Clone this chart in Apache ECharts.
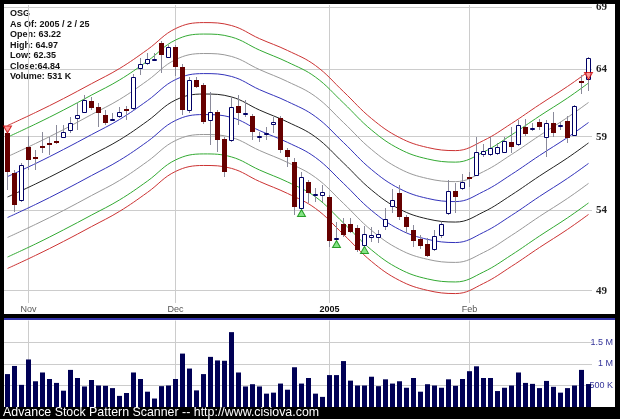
<!DOCTYPE html>
<html><head><meta charset="utf-8">
<script src="https://cdn.jsdelivr.net/npm/echarts@6/dist/echarts.min.js"></script>
<style>html,body{margin:0;padding:0;background:#000;}#c{width:620px;height:419px;}</style>
</head><body><div id="c"></div>
<script>
const dates = [
 '2004-10-27','2004-10-28','2004-10-29',
 '2004-11-01','2004-11-02','2004-11-03','2004-11-04','2004-11-05',
 '2004-11-08','2004-11-09','2004-11-10','2004-11-11','2004-11-12',
 '2004-11-15','2004-11-16','2004-11-17','2004-11-18','2004-11-19',
 '2004-11-22','2004-11-23','2004-11-24','2004-11-26','2004-11-29','2004-11-30',
 '2004-12-01','2004-12-02','2004-12-03',
 '2004-12-06','2004-12-07','2004-12-08','2004-12-09','2004-12-10',
 '2004-12-13','2004-12-14','2004-12-15','2004-12-16','2004-12-17',
 '2004-12-20','2004-12-21','2004-12-22','2004-12-23',
 '2004-12-27','2004-12-28','2004-12-29','2004-12-30','2004-12-31',
 '2005-01-03','2005-01-04','2005-01-05','2005-01-06','2005-01-07',
 '2005-01-10','2005-01-11','2005-01-12','2005-01-13','2005-01-14',
 '2005-01-18','2005-01-19','2005-01-20','2005-01-21',
 '2005-01-24','2005-01-25','2005-01-26','2005-01-27','2005-01-28','2005-01-31',
 '2005-02-01','2005-02-02','2005-02-03','2005-02-04',
 '2005-02-07','2005-02-08','2005-02-09','2005-02-10','2005-02-11',
 '2005-02-14','2005-02-15','2005-02-16','2005-02-17','2005-02-18',
 '2005-02-22','2005-02-23','2005-02-24','2005-02-25'
];
const openP = [59.27,56.48,54.66,58.29,57.58,58.35,58.56,58.70,59.00,59.48,
 60.32,60.78,61.60,61.17,60.56,60.24,60.49,60.98,61.08,64.12,
 64.52,64.76,66.09,64.98,65.74,64.20,60.93,63.18,62.80,60.20,
 60.81,58.84,58.77,61.23,60.71,60.49,58.98,59.23,59.91,60.32,
 58.06,57.25,54.12,55.89,55.04,55.00,54.84,52.19,53.10,53.10,
 52.83,51.78,52.26,52.26,52.97,54.27,55.11,53.53,52.72,52.13,
 51.84,51.51,52.40,53.79,55.28,55.44,56.22,56.34,57.79,57.79,
 57.84,57.94,58.65,58.49,59.72,59.58,60.08,59.00,59.96,59.80,
 60.15,59.13,63.13,63.22];
const closeP = [56.54,54.33,57.02,57.37,57.44,58.20,58.42,58.56,59.36,60.01,
 60.57,61.67,61.08,60.69,59.96,60.31,60.81,60.88,63.42,64.39,
 64.78,64.80,65.11,65.71,64.20,60.93,63.18,62.65,60.08,60.81,
 58.77,56.56,61.17,60.69,60.75,59.36,59.02,59.27,60.08,58.06,
 57.59,54.23,56.18,55.11,55.07,55.22,52.05,52.22,52.40,52.61,
 51.47,52.47,52.40,52.47,53.41,54.66,53.53,52.89,52.05,51.72,
 51.10,52.34,53.10,55.28,54.88,55.89,56.05,57.94,58.01,58.18,
 58.29,58.72,58.29,59.84,59.20,59.61,59.67,60.01,59.29,59.84,
 58.89,61.23,63.03,64.84];
const highP = [59.50,56.68,57.16,59.05,58.06,59.34,58.98,59.84,59.84,60.44,
 61.45,62.04,61.89,61.45,60.93,60.71,61.15,61.20,63.66,64.88,
 65.27,65.29,66.19,65.93,65.93,64.41,63.42,63.42,62.95,62.27,
 60.93,58.98,61.92,62.04,61.67,60.64,59.36,59.72,60.40,60.49,
 58.20,57.51,56.56,56.00,55.46,55.66,55.00,53.25,53.47,53.47,
 53.04,52.97,52.93,52.72,54.12,55.38,55.66,53.68,53.04,52.40,
 52.22,52.72,53.23,56.00,55.77,56.44,56.56,59.00,58.49,59.00,
 58.56,59.00,59.72,60.20,60.25,59.96,60.27,60.20,60.81,60.08,
 60.49,61.30,63.56,64.97];
const lowP = [55.33,53.88,54.53,56.68,56.68,57.85,57.71,58.49,58.91,59.27,
 59.48,60.71,60.93,59.72,59.84,60.13,60.35,60.20,60.93,63.56,
 64.33,64.72,63.72,64.88,63.48,60.57,60.71,62.57,59.91,58.42,
 57.92,56.22,58.63,59.84,60.44,58.77,58.65,58.77,59.25,57.85,
 56.91,53.69,54.07,54.44,54.55,54.55,51.67,52.09,52.28,52.53,
 51.35,51.72,51.98,51.90,52.72,53.82,53.36,52.51,51.67,51.53,
 51.02,51.41,52.22,53.68,53.82,55.33,55.51,56.27,57.59,57.64,
 57.71,57.85,57.83,58.35,59.05,59.39,59.48,57.59,59.00,59.48,
 58.58,59.05,62.12,62.35];
const volumeK = [761,949,512,1099,595,798,648,557,377,858,
 670,475,625,497,490,437,257,324,798,648,
 354,196,482,497,648,1235,889,384,761,1159,
 1077,1069,1731,798,475,527,475,309,332,542,
 400,919,542,670,309,234,738,738,1062,610,
 497,497,700,482,640,542,595,445,670,354,
 527,497,445,640,490,648,828,941,670,670,
 369,445,497,798,557,535,437,603,467,332,
 437,497,858,531];
// envelope curves, read at these candle positions
const bandIdx = [0,4,8,12,16,20,24,28,32,36,40,44,48,52,56,60,64,68,72,76,80,83];
const bandRedUp   = [59.80,60.75,61.78,62.90,64.06,65.54,67.22,67.71,67.47,66.41,65.47,64.29,62.30,60.31,58.94,58.24,58.02,58.73,59.95,61.33,62.69,63.83];
const bandGreenUp = [58.97,59.91,60.93,62.04,63.18,64.64,66.30,66.78,66.54,65.50,64.56,63.40,61.45,59.48,58.13,57.44,57.22,57.92,59.13,60.49,61.82,62.95];
const bandGrayUp  = [57.60,58.52,59.51,60.60,61.71,63.14,64.75,65.23,65.00,63.98,63.06,61.93,60.02,58.10,56.77,56.10,55.89,56.57,57.75,59.08,60.39,61.49];
const bandBlueUp  = [56.23,57.12,58.10,59.15,60.24,61.63,63.21,63.67,63.45,62.45,61.56,60.45,58.59,56.71,55.42,54.77,54.56,55.23,56.38,57.68,58.95,60.02];
const bandMid     = [54.86,55.73,56.68,57.71,58.77,60.13,61.67,62.12,61.90,60.93,60.06,58.98,57.16,55.33,54.07,53.43,53.23,53.88,55.00,56.27,57.51,58.56];
const bandBlueDn  = [53.52,54.37,55.30,56.30,57.34,58.66,60.17,60.60,60.39,59.44,58.60,57.54,55.77,53.98,52.75,52.13,51.93,52.57,53.66,54.90,56.11,57.13];
const bandGrayDn  = [52.25,53.08,53.98,54.96,55.97,57.27,58.73,59.16,58.95,58.03,57.20,56.17,54.44,52.70,51.50,50.89,50.70,51.31,52.38,53.59,54.77,55.77];
const bandGreenDn = [51.03,51.84,52.73,53.68,54.67,55.93,57.37,57.79,57.58,56.68,55.87,54.87,53.17,51.47,50.30,49.70,49.52,50.12,51.16,52.34,53.50,54.47];
const bandRedDn   = [50.33,51.13,52.00,52.94,53.92,55.17,56.58,56.99,56.79,55.90,55.10,54.11,52.44,50.76,49.61,49.02,48.83,49.43,50.46,51.62,52.76,53.72];
const sellIdx = [0, 83];
const buyIdx = [42, 47, 51];
const priceTicks = [49, 54, 59, 64, 69];
const monthLabels = {'2004-11-01':'Nov','2004-12-01':'Dec','2005-01-03':'2005','2005-02-01':'Feb'};
const infoLines = ['OSG','As Of: 2005 / 2 / 25','Open: 63.22','High: 64.97','Low: 62.35','Close:64.84','Volume: 531 K'];
const footer = 'Advance Stock Pattern Scanner -- http://www.cisiova.com';

const chart = echarts.init(document.getElementById('c'));
const candleData = dates.map((d, i) => [i, openP[i], closeP[i], lowP[i], highP[i]]);
function mkBand(arr) { return bandIdx.map((k, j) => [k, arr[j]]); }
const bands = [
  [bandRedUp, '#cc3333'], [bandGreenUp, '#33aa33'], [bandGrayUp, '#999999'], [bandBlueUp, '#3333bb'],
  [bandMid, '#222222'],
  [bandBlueDn, '#3333bb'], [bandGrayDn, '#999999'], [bandGreenDn, '#33aa33'], [bandRedDn, '#cc3333']
];
const monthKeys = Object.keys(monthLabels);

function renderCandle(params, api) {
  const i = api.value(0);
  const o = api.value(1), c = api.value(2), l = api.value(3), h = api.value(4);
  const po = api.coord([i, o]), pc = api.coord([i, c]), pl = api.coord([i, l]), ph = api.coord([i, h]);
  const xc = Math.floor(po[0]) + 0.5;
  const up = c >= o;
  const top = Math.min(po[1], pc[1]), bot = Math.max(po[1], pc[1]);
  const ch = [{type: 'line', shape: {x1: xc, y1: Math.round(ph[1]), x2: xc, y2: Math.round(pl[1])},
    style: {stroke: '#8a8a9a', lineWidth: 1}}];
  if (up) {
    let t = Math.round(top) + 0.5, b = Math.round(bot) + 0.5;
    if (b - t < 1) b = t + 1;
    ch.push({type: 'rect', shape: {x: xc - 2, y: t, width: 4, height: b - t},
      style: {fill: '#ffffff', stroke: '#000066', lineWidth: 1}});
  } else {
    let t = Math.round(top), b = Math.round(bot);
    if (b - t < 2) b = t + 2;
    ch.push({type: 'rect', shape: {x: xc - 2.5, y: t, width: 5, height: b - t},
      style: {fill: '#660000'}});
  }
  return {type: 'group', children: ch};
}

const series = [];
series.push({
  type: 'line', xAxisIndex: 0, yAxisIndex: 0, data: [], z: 1, silent: true,
  markLine: {
    z: 1, silent: true, symbol: ['none', 'none'], animation: false,
    lineStyle: {color: '#cccccc', width: 1, type: 'solid'},
    label: {show: true, position: 'end', distance: 4, formatter: p => String(p.value),
      fontFamily: 'Liberation Serif', fontWeight: 'bold', fontSize: 11, color: '#222'},
    data: priceTicks.map(v => ({yAxis: v}))
  }
});
series.push({
  type: 'line', xAxisIndex: 0, yAxisIndex: 0, data: [], z: 1, silent: true,
  markLine: {
    z: 1, silent: true, symbol: ['none', 'none'], animation: false,
    lineStyle: {color: '#cccccc', width: 1, type: 'solid'},
    label: {show: false},
    data: monthKeys.map(k => ({xAxis: k}))
  }
});
bands.forEach(([arr, col]) => {
  series.push({type: 'line', xAxisIndex: 0, yAxisIndex: 0, data: mkBand(arr), smooth: 0.4,
    showSymbol: false, silent: true, z: 2, lineStyle: {color: col, width: 1}});
});
series.push({type: 'custom', xAxisIndex: 0, yAxisIndex: 0, data: candleData, renderItem: renderCandle,
  z: 3, clip: true, silent: true, encode: {x: 0, y: [1, 2, 3, 4]}});
series.push({type: 'scatter', xAxisIndex: 0, yAxisIndex: 0, z: 4, silent: true,
  data: sellIdx.map(i => [i, openP[i]]), symbol: 'triangle', symbolRotate: 180, symbolSize: [8, 7],
  symbolOffset: [0, -3.5], itemStyle: {color: '#ff8080', borderColor: '#cc0000', borderWidth: 1}});
series.push({type: 'scatter', xAxisIndex: 0, yAxisIndex: 0, z: 4, silent: true,
  data: buyIdx.map(i => [i, lowP[i]]), symbol: 'triangle', symbolSize: [8, 7],
  symbolOffset: [0, 4], itemStyle: {color: '#66dd66', borderColor: '#008800', borderWidth: 1}});
series.push({type: 'bar', xAxisIndex: 1, yAxisIndex: 1, data: volumeK, barWidth: 5, z: 2, silent: true,
  itemStyle: {color: '#000055'},
  markLine: {z: 1, silent: true, symbol: ['none', 'none'], animation: false,
    lineStyle: {color: '#cccccc', width: 1, type: 'solid'}, label: {show: false},
    data: monthKeys.map(k => ({xAxis: k}))}
});

const option = {
  backgroundColor: '#000000',
  animation: false,
  textStyle: {fontFamily: 'Liberation Sans'},
  grid: [
    {left: 4, right: 28, top: 5, height: 298, outerBoundsMode: 'none'},
    {left: 4, right: 28, top: 320.5, height: 86.5, outerBoundsMode: 'none'}
  ],
  xAxis: [
    {type: 'category', gridIndex: 0, data: dates,
      axisLine: {show: false}, axisTick: {show: false}, splitLine: {show: false},
      axisLabel: {interval: (idx, val) => monthLabels[val] !== undefined, margin: 2,
        formatter: v => v === '2005-01-03' ? '{b|2005}' : '{n|' + (monthLabels[v] || '') + '}',
        rich: {n: {color: '#555555', fontSize: 9, fontFamily: 'Liberation Sans'},
               b: {color: '#111111', fontSize: 9, fontWeight: 'bold', fontFamily: 'Liberation Sans'}}}},
    {type: 'category', gridIndex: 1, data: dates, show: false}
  ],
  yAxis: [
    {type: 'log', gridIndex: 0, position: 'right', min: 48.278, max: 69.162, logBase: 10,
      axisLine: {show: false}, axisTick: {show: false}, axisLabel: {show: false}, splitLine: {show: false}},
    {type: 'value', gridIndex: 1, position: 'right', min: 0, max: 2000, interval: 500,
      axisLine: {show: false}, axisTick: {show: false},
      splitLine: {show: true, showMinLine: false, showMaxLine: false, lineStyle: {color: '#cccccc'}},
      axisLabel: {margin: 21, align: 'right', fontSize: 9, color: '#333399', fontFamily: 'Liberation Sans',
        formatter: v => v === 500 ? '500 K' : v === 1000 ? '1 M' : v === 1500 ? '1.5 M' : ''}}
  ],
  graphic: [
    {type: 'rect', z: -10, silent: true, shape: {x: 4, y: 4, width: 611, height: 310}, style: {fill: '#ffffff'}},
    {type: 'rect', z: -10, silent: true, shape: {x: 4, y: 320, width: 611, height: 87}, style: {fill: '#ffffff'}},
    {type: 'rect', z: -9, silent: true, shape: {x: 4, y: 318, width: 611, height: 2}, style: {fill: '#3333aa'}},
    {type: 'group', z: 100, silent: true, children: infoLines.map((t, k) => ({
      type: 'text', x: 10, y: 14 + k * 10.5,
      style: {text: t, fill: '#111111', font: 'bold 9px "Liberation Sans"', textVerticalAlign: 'middle', verticalAlign: 'middle'}
    }))},
    {type: 'text', z: 100, silent: true, x: 3, y: 413,
      style: {text: footer, fill: '#ffffff', font: '12.4px "Liberation Sans"', verticalAlign: 'middle', textVerticalAlign: 'middle'}}
  ],
  series: series
};
chart.setOption(option);
</script></body></html>
